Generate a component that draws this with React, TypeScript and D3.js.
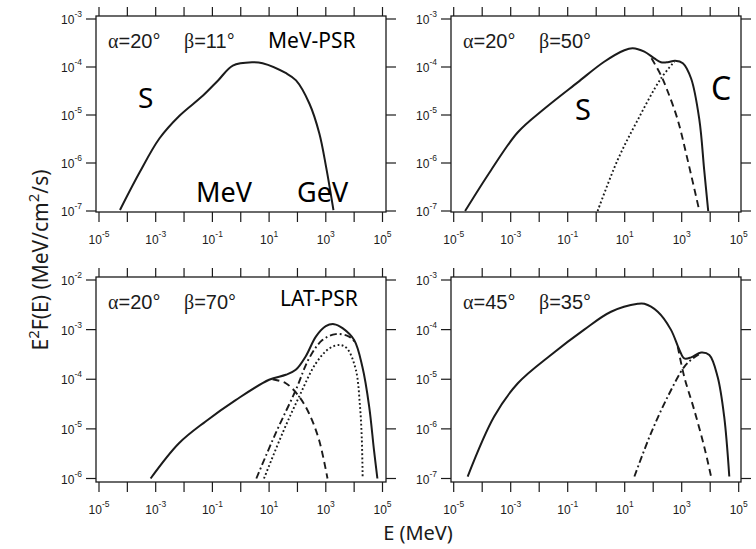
import React, { useEffect, useRef } from "react";
import * as d3 from "d3";

// Curves as [log10(E / MeV), log10(E^2 F)]

// top-left: alpha=20, beta=11 (MeV-PSR)
const p1Total = [
  [-4.26, -6.98], [-3.58, -6.21], [-2.87, -5.49], [-2.17, -5.02], [-1.34, -4.6],
  [-0.8, -4.28], [-0.28, -3.97], [0.42, -3.9], [0.77, -3.92], [1.6, -4.13], [1.95, -4.28],
  [2.42, -4.76], [2.77, -5.38], [3.01, -6.08], [3.27, -6.98],
];

// top-right: alpha=20, beta=50
const p2Total = [
  [-4.6, -7.0], [-3.69, -6.15], [-2.75, -5.36], [-1.82, -4.87], [-0.65, -4.32],
  [0.28, -3.89], [0.99, -3.65], [1.28, -3.61], [1.69, -3.68], [2.04, -3.82],
  [2.27, -3.9], [2.51, -3.9], [2.77, -3.87], [3.04, -3.92], [3.33, -4.24],
  [3.62, -5.1], [3.79, -6.15], [3.93, -7.0],
];
const p2Sync = [
  [1.94, -3.82], [2.27, -4.17], [2.51, -4.51], [2.86, -5.1], [3.21, -5.94], [3.62, -7.0],
];
const p2Curv = [
  [0.05, -7.0], [0.75, -5.94], [1.46, -5.1], [2.27, -4.24], [2.74, -3.89],
];

// bottom-left: alpha=20, beta=70 (LAT-PSR)
const p3Total = [
  [-3.18, -6.0], [-2.18, -5.29], [-1.24, -4.85], [-0.18, -4.42], [1.0, -4.01],
  [1.59, -3.91], [1.94, -3.81], [2.29, -3.54], [2.65, -3.14], [3.0, -2.93],
  [3.29, -2.89], [3.59, -2.97], [4.0, -3.21], [4.29, -3.75], [4.53, -4.55],
  [4.7, -5.43], [4.82, -6.0],
];
const p3Sync = [
  [1.12, -4.0], [1.59, -4.08], [2.06, -4.35], [2.41, -4.69], [2.76, -5.22], [3.06, -6.0],
];
const p3Ic = [
  [0.55, -6.0], [1.23, -5.09], [1.94, -4.22], [2.41, -3.58], [2.88, -3.21],
  [3.35, -3.09], [3.82, -3.14], [4.06, -3.27],
];
const p3Curv = [
  [0.82, -6.0], [1.47, -5.09], [2.06, -4.35], [2.65, -3.68], [3.12, -3.38],
  [3.5, -3.31], [3.75, -3.38], [4.06, -3.81], [4.2, -4.5], [4.27, -5.2], [4.3, -6.0],
];

// bottom-right: alpha=45, beta=35
const p4Total = [
  [-4.51, -6.96], [-3.58, -5.75], [-2.75, -5.08], [-1.59, -4.51], [-0.42, -4.0],
  [0.52, -3.64], [1.46, -3.48], [1.69, -3.48], [2.16, -3.64], [2.62, -4.0],
  [2.92, -4.41], [3.09, -4.58], [3.33, -4.56], [3.68, -4.46], [3.97, -4.51],
  [4.26, -4.95], [4.49, -5.75], [4.67, -6.96],
];
const p4Sync = [
  [2.86, -4.34], [3.09, -4.95], [3.44, -5.62], [3.79, -6.36], [4.03, -6.96],
];
const p4Ic = [
  [1.34, -6.96], [1.92, -6.09], [2.51, -5.35], [3.09, -4.75], [3.39, -4.58], [3.6, -4.5],
];

// ticks
const xTickExps = [-5, -4, -3, -2, -1, 0, 1, 2, 3, 4, 5];
const xLabelExps = [-5, -3, -1, 1, 3, 5];
const yExpsTop = [-7, -6, -5, -4, -3];
const yExpsLow = [-6, -5, -4, -3, -2];

const INK = "#1b1b1b";
const CALIBRI = "'Noto Sans', 'Open Sans', sans-serif";
const ARIAL = "'Liberation Sans', Arial, sans-serif";

const dashFor = {
  solid: null,
  dashed: "7,4.5",
  dotted: "1.8,2.4",
  dashdot: "7,3,1.8,3",
};

const panels = [
  {
    box: [96, 16, 386, 212], xr: [99, 382.5], yr: [211, 19], yExps: yExpsTop,
    angles: ["20", "11"],
    lines: [{ pts: p1Total, kind: "solid" }],
    notes: [
      { t: "MeV-PSR", x: 268, y: 48, s: 21 },
      { t: "S", x: 138, y: 108, s: 28 },
      { t: "MeV", x: 196, y: 202, s: 27 },
      { t: "GeV", x: 297, y: 202, s: 27 },
    ],
  },
  {
    box: [451, 16, 741, 212], xr: [453.7, 738.7], yr: [211, 19], yExps: yExpsTop,
    angles: ["20", "50"],
    lines: [
      { pts: p2Sync, kind: "dashed" },
      { pts: p2Curv, kind: "dotted" },
      { pts: p2Total, kind: "solid" },
    ],
    notes: [
      { t: "S", x: 575, y: 120, s: 29 },
      { t: "C", x: 711, y: 100, s: 32 },
    ],
  },
  {
    box: [96, 277, 386, 482], xr: [99, 382.5], yr: [478.5, 280], yExps: yExpsLow,
    angles: ["20", "70"],
    lines: [
      { pts: p3Sync, kind: "dashed" },
      { pts: p3Ic, kind: "dashdot" },
      { pts: p3Curv, kind: "dotted" },
      { pts: p3Total, kind: "solid" },
    ],
    notes: [{ t: "LAT-PSR", x: 280, y: 306, s: 21 }],
  },
  {
    box: [451, 277, 741, 482], xr: [453.7, 738.7], yr: [478.5, 280], yExps: yExpsTop,
    angles: ["45", "35"],
    lines: [
      { pts: p4Sync, kind: "dashed" },
      { pts: p4Ic, kind: "dashdot" },
      { pts: p4Total, kind: "solid" },
    ],
    notes: [],
  },
];

const App = () => {
  const svgRef = useRef(null);

  useEffect(() => {
    const svg = d3.select(svgRef.current);
    svg.selectAll("*").remove();

    panels.forEach((p) => {
      const [bx0, by0, bx1, by1] = p.box;
      const x = d3.scaleLog().domain([1e-5, 1e5]).range(p.xr);
      const yDom = [10 ** p.yExps[0], 10 ** p.yExps[p.yExps.length - 1]];
      const y = d3.scaleLog().domain(yDom).range(p.yr);
      const g = svg.append("g");

      // frame
      g.append("rect")
        .attr("x", bx0).attr("y", by0)
        .attr("width", bx1 - bx0).attr("height", by1 - by0)
        .attr("fill", "none").attr("stroke", INK).attr("stroke-width", 1.3);

      // x ticks, top and bottom (outward)
      xTickExps.forEach((e) => {
        const xx = x(10 ** e);
        g.append("line").attr("x1", xx).attr("x2", xx).attr("y1", by0).attr("y2", by0 - 9)
          .attr("stroke", INK).attr("stroke-width", 1.2);
        g.append("line").attr("x1", xx).attr("x2", xx).attr("y1", by1).attr("y2", by1 + 10)
          .attr("stroke", INK).attr("stroke-width", 1.2);
      });
      xLabelExps.forEach((e) => {
        const t = g.append("text")
          .attr("x", x(10 ** e)).attr("y", by1 + 32)
          .attr("text-anchor", "middle")
          .attr("font-family", ARIAL).attr("font-size", 12).attr("fill", INK);
        t.append("tspan").text("10");
        t.append("tspan").attr("dy", -7).attr("font-size", 8.5).text(String(e));
      });

      // y ticks, left and right (outward)
      p.yExps.forEach((e) => {
        const yy = y(10 ** e);
        g.append("line").attr("x1", bx0).attr("x2", bx0 - 10).attr("y1", yy).attr("y2", yy)
          .attr("stroke", INK).attr("stroke-width", 1.2);
        g.append("line").attr("x1", bx1).attr("x2", bx1 + 10).attr("y1", yy).attr("y2", yy)
          .attr("stroke", INK).attr("stroke-width", 1.2);
        const t = g.append("text")
          .attr("x", bx0 - 14).attr("y", yy + 5)
          .attr("text-anchor", "end")
          .attr("font-family", ARIAL).attr("font-size", 12).attr("fill", INK);
        t.append("tspan").text("10");
        t.append("tspan").attr("dy", -7).attr("font-size", 8.5).text(String(e));
      });

      // curves
      const line = d3.line()
        .x((d) => x(10 ** d[0]))
        .y((d) => y(10 ** d[1]))
        .curve(d3.curveCatmullRom.alpha(0.5));
      p.lines.forEach((l) => {
        g.append("path")
          .attr("d", line(l.pts))
          .attr("fill", "none")
          .attr("stroke", INK)
          .attr("stroke-width", l.kind === "solid" ? 2 : 1.9)
          .attr("stroke-dasharray", dashFor[l.kind]);
      });

      // alpha / beta annotation
      const ay = by0 + 32;
      const a = g.append("text").attr("x", bx0 + 12).attr("y", ay)
        .attr("font-family", ARIAL).attr("font-size", 20).attr("fill", INK);
      a.append("tspan").attr("font-family", "'Liberation Serif', serif").text("α");
      a.append("tspan").text(`=${p.angles[0]}°`);
      const b = g.append("text").attr("x", bx0 + 88).attr("y", ay)
        .attr("font-family", ARIAL).attr("font-size", 20).attr("fill", INK);
      b.append("tspan").attr("font-family", "'Liberation Serif', serif").text("β");
      b.append("tspan").text(`=${p.angles[1]}°`);

      p.notes.forEach((n) => {
        g.append("text").attr("x", n.x).attr("y", n.y)
          .attr("font-family", CALIBRI).attr("font-size", n.s).attr("fill", "#000")
          .text(n.t);
      });
    });

    // axis titles
    const yl = svg.append("text")
      .attr("transform", "translate(48,260) rotate(-90)")
      .attr("text-anchor", "middle")
      .attr("font-family", CALIBRI).attr("font-size", 21).attr("fill", INK);
    yl.append("tspan").text("E");
    yl.append("tspan").attr("dy", -9).attr("font-size", 15).text("2");
    yl.append("tspan").attr("dy", 9).text("F(E) (MeV/cm");
    yl.append("tspan").attr("dy", -9).attr("font-size", 15).text("2");
    yl.append("tspan").attr("dy", 9).text("/s)");

    svg.append("text")
      .attr("x", 418).attr("y", 540)
      .attr("text-anchor", "middle")
      .attr("font-family", CALIBRI).attr("font-size", 20).attr("fill", INK)
      .text("E (MeV)");
  }, []);

  return (
    <svg
      ref={svgRef}
      width={756}
      height={549}
      style={{ position: "absolute", left: 0, top: 0, background: "#fff" }}
    ></svg>
  );
};

export default App;
